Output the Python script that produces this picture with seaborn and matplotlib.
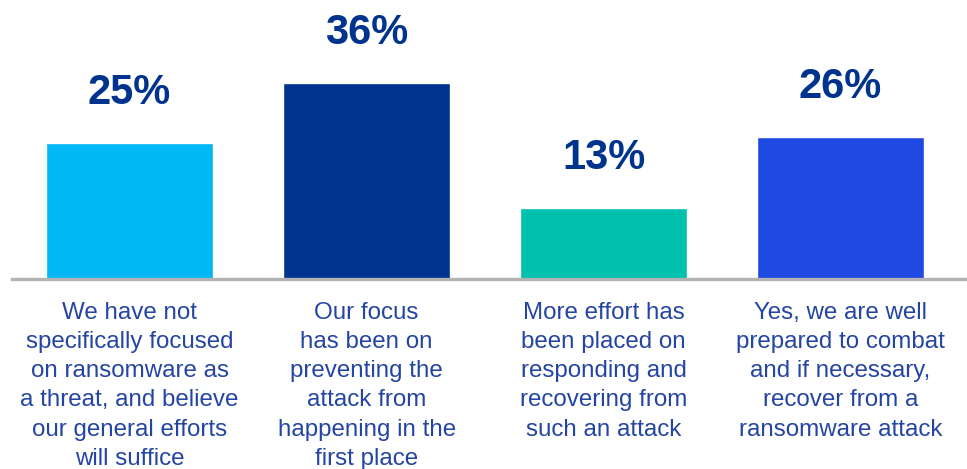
import matplotlib
matplotlib.use("Agg")
import matplotlib.pyplot as plt
import seaborn as sns
import pandas as pd

categories = [
    "We have not\nspecifically focused\non ransomware as\na threat, and believe\nour general efforts\nwill suffice",
    "Our focus\nhas been on\npreventing the\nattack from\nhappening in the\nfirst place",
    "More effort has\nbeen placed on\nresponding and\nrecovering from\nsuch an attack",
    "Yes, we are well\nprepared to combat\nand if necessary,\nrecover from a\nransomware attack",
]
values = [25, 36, 13, 26]
bar_colors = ["#00B8F5", "#00338D", "#00C0AE", "#1E49E2"]

sns.set_theme(style="white")
plt.rcParams["font.family"] = ["Liberation Sans", "DejaVu Sans"]

df = pd.DataFrame({"category": categories, "value": values})

W, H = 967, 469
fig = plt.figure(figsize=(W / 100, H / 100), dpi=100)
base_px = 279
left_px, right_px = 12, 966
ax = fig.add_axes([left_px / W, (H - base_px) / H,
                   (right_px - left_px) / W, base_px / H])

sns.barplot(data=df, x="category", y="value", hue="category",
            palette=bar_colors, width=0.705, legend=False, ax=ax,
            saturation=1)

px_per_unit = 5.45
ax.set_ylim(0, base_px / px_per_unit)
ax.set_xlim(-0.496, 3.529)

for s in ["top", "right", "left"]:
    ax.spines[s].set_visible(False)
ax.spines["bottom"].set_color("#B3B3B3")
ax.spines["bottom"].set_linewidth(2.4)
ax.set_yticks([])
ax.set_xticks([])
ax.set_xlabel("")
ax.set_ylabel("")

for i, (cat, v) in enumerate(zip(categories, values)):
    ax.annotate(f"{v}%", xy=(i, v), xytext=(0, 30), textcoords="offset pixels",
                ha="center", va="bottom", fontsize=30, fontweight="bold",
                color="#00338D")
    ax.annotate(cat, xy=(i, 0), xytext=(0, -23), textcoords="offset pixels",
                ha="center", va="top", fontsize=17.4, color="#2445A3",
                linespacing=1.42, annotation_clip=False)

fig.savefig("out.png", dpi=100, facecolor="white")
